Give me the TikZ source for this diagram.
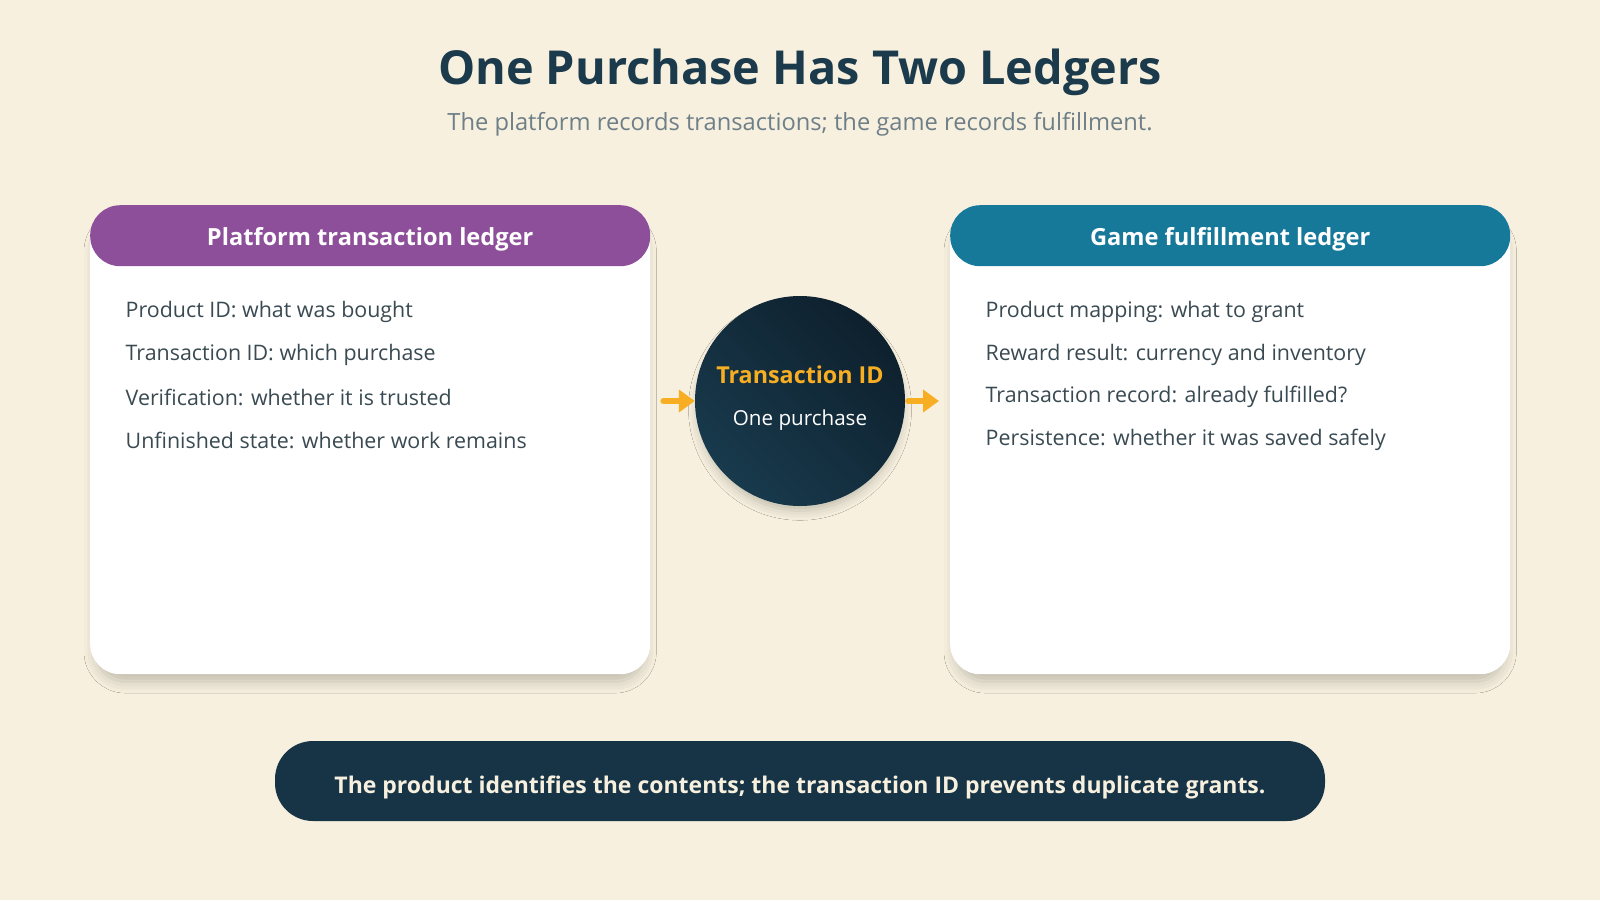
\documentclass[tikz,border=0pt]{standalone}
\usepackage{fontspec}
\setmainfont{Open Sans}
\usetikzlibrary{shadows.blur,arrows.meta,calc}
\definecolor{bg}{HTML}{F7F0DF}
\definecolor{navy}{HTML}{1B3A4B}
\definecolor{subgray}{HTML}{6E7F88}
\definecolor{purp}{HTML}{8D4F9A}
\definecolor{teal}{HTML}{17799A}
\definecolor{itemtxt}{HTML}{3A4A52}
\definecolor{orng}{HTML}{F8AE22}
\definecolor{circA}{HTML}{0E202D}
\definecolor{circB}{HTML}{183A4D}
\definecolor{pill}{HTML}{173447}
\begin{document}
\begin{tikzpicture}[x=1pt,y=-1pt,
  card/.style={draw=none,fill=white,rounded corners=30pt,minimum width=560pt,minimum height=469pt,anchor=north west,blur shadow={shadow xshift=0pt,shadow yshift=-12pt,shadow scale=0.98,shadow blur radius=12pt,shadow opacity=22}},
  header/.style={draw=none,rounded corners=30pt,minimum width=560pt,minimum height=61pt,anchor=north west},
  htext/.style={text=white,font=\fontsize{23.6}{28}\selectfont\bfseries},
  item/.style={anchor=west,text=itemtxt,font=\fontsize{21.4}{25}\selectfont,inner sep=0pt},
  arr/.style={draw=orng,line width=6pt,line cap=round,-{Triangle[length=16pt,width=22pt]}}
]
\fill[bg] (0,0) rectangle (1600,900);
\useasboundingbox (0,0) rectangle (1600,900);

\node[text=navy,font=\fontsize{46.8}{52}\selectfont\bfseries] (title) at (800,72) {One Purchase Has Two Ledgers};
\node[text=subgray,font=\fontsize{23.7}{28}\selectfont] (sub) at (800,124) {The platform records transactions; the game records fulfillment.};

% left card
\node[card] (lcard) at (90,205) {};
\node[header,fill=purp] (lhead) at (90,205) {};
\node[htext] (lht) at ($(lhead.center)+(0,4)$) {Platform transaction ledger};
\node[item] (l1) at (125.5,312) {Product ID: what was bought};
\node[item] (l2) at (125.5,355) {Transaction ID: which purchase};
\node[item] (l3) at (125.5,397) {Verification: whether it is trusted};
\node[item] (l4) at (125.5,440) {Unfinished state: whether work remains};

% right card
\node[card] (rcard) at (950,205) {};
\node[header,fill=teal] (rhead) at (950,205) {};
\node[htext] (rht) at ($(rhead.center)+(0,4)$) {Game fulfillment ledger};
\node[item] (r1) at (985.5,312) {Product mapping: what to grant};
\node[item] (r2) at (985.5,355) {Reward result: currency and inventory};
\node[item] (r3) at (985.5,397) {Transaction record: already fulfilled?};
\node[item] (r4) at (985.5,440) {Persistence: whether it was saved safely};

% centre circle
\node[circle,minimum size=210pt,inner sep=0pt,draw=none,left color=circA,right color=circB,shading angle=-45,
  blur shadow={shadow xshift=0pt,shadow yshift=-8pt,shadow scale=0.97,shadow blur radius=10pt,shadow opacity=22}] (circ) at (800,401) {};
\node[text=orng,font=\fontsize{23.3}{27}\selectfont\bfseries] (ctitle) at (800,375) {Transaction ID};
\node[text=white,font=\fontsize{20.6}{24}\selectfont] (csub) at (800,420) {One purchase};

% arrows
\coordinate (la) at ($(lcard.east |- circ)+(13,0)$);
\coordinate (ra) at ($(rcard.west |- circ)+(-11,0)$);
\draw[arr] (la) -- (circ.west);
\draw[arr] ($(circ.east)+(3,0)$) -- (ra);

% bottom pill
\node[draw=none,fill=pill,rounded corners=38pt,minimum width=1050pt,minimum height=80pt] (note) at (800,781) {};
\node[text=bg,font=\fontsize{23}{27}\selectfont\bfseries] (notet) at ($(note.center)+(0,6)$) {The product identifies the contents; the transaction ID prevents duplicate grants.};
\end{tikzpicture}
\end{document}
